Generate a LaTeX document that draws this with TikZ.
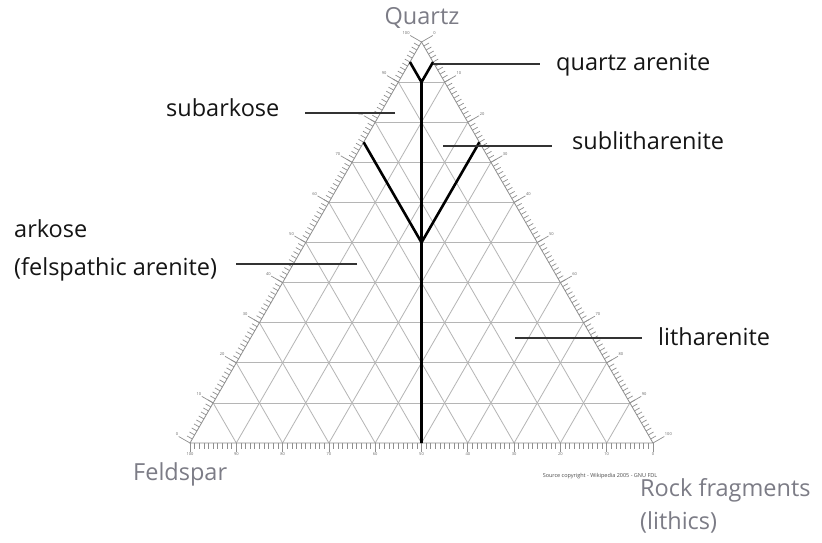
\documentclass[tikz,border=0pt]{standalone}
\usepackage{fontspec}
\setmainfont{Open Sans}
\usetikzlibrary{calc}
\definecolor{gridc}{HTML}{B5B5B5}
\definecolor{axisc}{HTML}{8F8F8F}
\definecolor{lblgray}{HTML}{7C7C86}
\definecolor{txt}{HTML}{151515}
\definecolor{leadc}{HTML}{333333}
\begin{document}
\begin{tikzpicture}[x=1pt,y=-1pt,
  gridline/.style={draw=gridc,line width=0.8pt},
  axisline/.style={draw=axisc,line width=0.8pt},
  tickline/.style={draw=axisc,line width=0.7pt},
  boundary/.style={draw=black,line width=2.6pt,line join=miter},
  leader/.style={draw=leadc,line width=1.4pt},
  cls/.style={font=\fontsize{23.5}{26}\selectfont,text=txt,anchor=west,inner sep=0pt},
  corner/.style={font=\fontsize{23.5}{26}\selectfont,text=lblgray,inner sep=0pt},
  ticklbl/.style={font=\fontsize{4}{4}\selectfont,text=black!60,inner sep=0.3pt}]
\useasboundingbox (0,0) rectangle (822,542);
\fill[white] (0,0) rectangle (822,542);
\coordinate (A) at (190,443);
\coordinate (B) at (653,443);
\coordinate (C) at (421.5,42);
% grid
\foreach \i in {1,...,9}{
  \draw[gridline] ($(A)!\i/10!(C)$) -- ($(B)!\i/10!(C)$);
  \draw[gridline] ($(A)!\i/10!(B)$) -- ($(C)!\i/10!(B)$);
  \draw[gridline] ($(B)!\i/10!(A)$) -- ($(C)!\i/10!(A)$);
}
\draw[axisline] (A) -- (B) -- (C) -- cycle;
% minor ticks
\foreach \j in {1,...,99}{
  \draw[tickline] ($(A)!\j/100!(C)$) -- ++(-5.2,-3);
  \draw[tickline] ($(C)!\j/100!(B)$) -- ++(5.2,-3);
  \draw[tickline] ($(B)!\j/100!(A)$) -- ++(0,5.5);
}
% labelled ticks
\foreach \k [evaluate=\k as \lab using int(\k*10)] in {0,...,10}{
  \draw[tickline] ($(A)!\k/10!(C)$) -- ++(-11.3,-6.5) node[ticklbl,anchor=south east]{\lab};
  \draw[tickline] ($(C)!\k/10!(B)$) -- ++(11.3,-6.5) node[ticklbl,anchor=south west]{\lab};
  \draw[tickline] ($(B)!\k/10!(A)$) -- ++(0,9) node[ticklbl,anchor=north]{\lab};
}
% field boundaries
\coordinate (L95) at ($(A)!0.95!(C)$);
\coordinate (R95) at ($(B)!0.95!(C)$);
\coordinate (L90) at ($(A)!0.9!(C)$);
\coordinate (R90) at ($(B)!0.9!(C)$);
\coordinate (M90) at ($(L90)!0.5!(R90)$);
\coordinate (L75) at ($(A)!0.75!(C)$);
\coordinate (R75) at ($(B)!0.75!(C)$);
\coordinate (L50) at ($(A)!0.5!(C)$);
\coordinate (R50) at ($(B)!0.5!(C)$);
\coordinate (M50) at ($(L50)!0.5!(R50)$);
\coordinate (M0) at ($(A)!0.5!(B)$);
\draw[boundary] (L95) -- (M90) -- (R95);
\draw[boundary] (M90) -- (M0);
\draw[boundary] (L75) -- (M50) -- (R75);
% corner labels
\node[corner] (q) at (422,18) {Quartz};
\node[corner,anchor=west] (f) at (133,474) {Feldspar};
\node[corner,anchor=west,align=left,font=\fontsize{23.5}{33}\selectfont] (r) at (640,506) {Rock fragments\\(lithics)};
% class labels
\node[cls] (qa) at (556,65) {quartz arenite};
\node[cls] (sa) at (166,108) {subarkose};
\node[cls] (sl) at (572,141) {sublitharenite};
\node[cls,align=left,font=\fontsize{23.5}{38}\selectfont] (ak) at (14,250) {arkose\\(felspathic arenite)};
\node[cls] (lt) at (658,337) {litharenite};
\node[font=\fontsize{5.5}{6}\selectfont,text=black!70,inner sep=0pt] (cp) at (600,476) {Source copyright - Wikipedia 2005 - GNU FDL};
% leaders
\coordinate (qaP) at (433,64);
\coordinate (saP) at (395,113);
\coordinate (slP) at (443,146);
\coordinate (akP) at (357,264);
\coordinate (ltP) at (515,338);
\draw[leader] (qaP) -- (540,64);
\draw[leader] (saP) -- (305,113);
\draw[leader] (slP) -- (552,146);
\draw[leader] (akP) -- (236,264);
\draw[leader] (ltP) -- (642,338);
\end{tikzpicture}
\end{document}
